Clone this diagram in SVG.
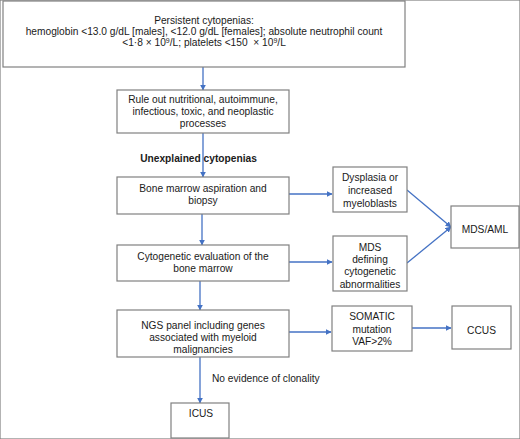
<svg xmlns="http://www.w3.org/2000/svg" width="520" height="439" viewBox="0 0 520 439">
<style>
rect{fill:#fff;stroke:#808080;stroke-width:1.2}
text{font-family:"Liberation Sans",Arial,sans-serif;font-size:10.2px;fill:#1a1a1a;text-anchor:middle}
text.l{text-anchor:start}
.c{stroke:#4472c4;stroke-width:1.3;fill:none;marker-end:url(#a)}
</style>
<defs>
<marker id="a" viewBox="0 0 10 10" refX="9" refY="5" markerWidth="6" markerHeight="6" markerUnits="userSpaceOnUse" orient="auto">
<path d="M0,0L10,5L0,10z" fill="#4472c4"/>
</marker>
</defs>
<rect width="520" height="439" fill="#fff" stroke="none"/>
<g id="connectors">
<line class="c" x1="203" y1="67" x2="203" y2="90"/>
<line class="c" x1="203" y1="133" x2="203" y2="177"/>
<line class="c" x1="202" y1="214" x2="202" y2="245"/>
<line class="c" x1="200" y1="281" x2="200" y2="310"/>
<line class="c" x1="200" y1="357" x2="200" y2="403"/>
<line class="c" x1="289" y1="194" x2="332" y2="194"/>
<line class="c" x1="289" y1="262" x2="332" y2="262"/>
<line class="c" x1="289" y1="332" x2="331" y2="332"/>
<line class="c" x1="412" y1="328" x2="451" y2="328"/>
<line class="c" x1="407" y1="190" x2="451" y2="227"/>
<line class="c" x1="407" y1="263" x2="451" y2="227"/>
</g>
<g id="n1">
<rect x="3" y="1" width="402" height="66"/>
<text x="204" y="24">Persistent cytopenias:</text>
<text x="204" y="35">hemoglobin &lt;13.0 g/dL [males], &lt;12.0 g/dL [females]; absolute neutrophil count</text>
<text x="204" y="46">&lt;1·8 × 10<tspan dy="-3.5" font-size="7">9</tspan><tspan dy="3.5">/L; platelets &lt;150&#160; × 10</tspan><tspan dy="-3.5" font-size="7">9</tspan><tspan dy="3.5">/L</tspan></text>
</g>
<g id="n2">
<rect x="117" y="90" width="172" height="43"/>
<text x="203" y="102.5">Rule out nutritional, autoimmune,</text>
<text x="203" y="114.5">infectious, toxic, and neoplastic</text>
<text x="203" y="127">processes</text>
</g>
<text x="198.5" y="161.5" font-weight="bold">Unexplained cytopenias</text>
<g id="n3">
<rect x="117" y="177" width="172" height="37"/>
<text x="203" y="191.5">Bone marrow aspiration and</text>
<text x="203" y="204">biopsy</text>
</g>
<g id="n4">
<rect x="117" y="245" width="172" height="36"/>
<text x="203" y="259.5">Cytogenetic evaluation of the</text>
<text x="203" y="271.5">bone marrow</text>
</g>
<g id="n5">
<rect x="117" y="310" width="172" height="47"/>
<text x="203" y="328.5">NGS panel including genes</text>
<text x="203" y="340.5">associated with myeloid</text>
<text x="203" y="352.5">malignancies</text>
</g>
<g id="n6">
<rect x="333" y="167" width="74" height="45"/>
<text x="370" y="180.5">Dysplasia or</text>
<text x="370" y="194">increased</text>
<text x="370" y="206.5">myeloblasts</text>
</g>
<g id="n7">
<rect x="333" y="236" width="74" height="55"/>
<text x="370" y="250.5">MDS</text>
<text x="370" y="262.5">defining</text>
<text x="370" y="275">cytogenetic</text>
<text x="370" y="287.5">abnormalities</text>
</g>
<g id="n8">
<rect x="451" y="206" width="68" height="42"/>
<text x="485" y="233">MDS/AML</text>
</g>
<g id="n9">
<rect x="332" y="306" width="80" height="45"/>
<text x="372" y="319.5">SOMATIC</text>
<text x="372" y="332.5">mutation</text>
<text x="372" y="344.5">VAF&gt;2%</text>
</g>
<g id="n10">
<rect x="452" y="306" width="59" height="43"/>
<text x="481.5" y="333.5">CCUS</text>
</g>
<text class="l" x="212" y="381.5">No evidence of clonality</text>
<g id="n11">
<rect x="171" y="403" width="58" height="35"/>
<text x="201" y="416.5">ICUS</text>
</g>
</svg>
